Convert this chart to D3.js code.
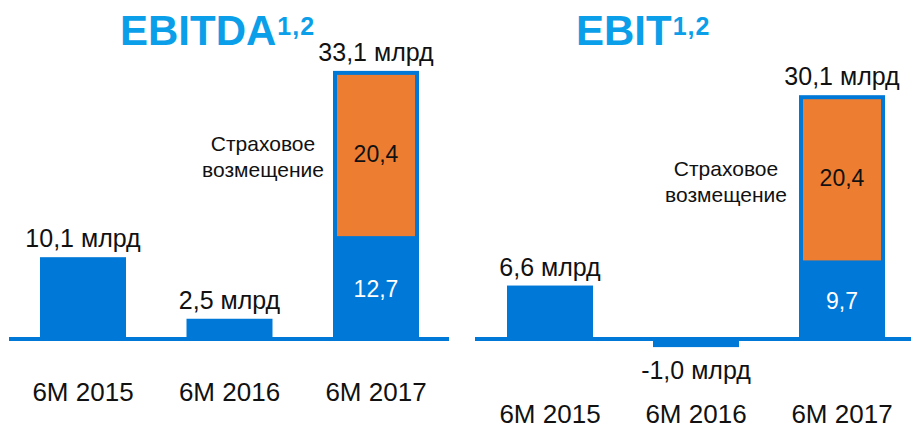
<!DOCTYPE html>
<html>
<head>
<meta charset="utf-8">
<script src="https://cdn.jsdelivr.net/npm/d3@7"></script>
<style>
  body { margin: 0; background: #fff; }
  text { font-family: "Liberation Sans", Arial, sans-serif; }
</style>
</head>
<body>
<div id="chart"></div>
<script>
var svgWidth = 911;
var svgHeight = 428;

// data
var categories = ["6M 2015", "6M 2016", "6M 2017"];
var ebitdaValues = [10.1, 2.5, 12.7];
var ebitValues = [6.6, -1.0, 9.7];
var insurance = [0, 0, 20.4];          // only the 2017 bar has it
var ebitdaTotals = ["10,1 млрд", "2,5 млрд", "33,1 млрд"];
var ebitTotals = ["6,6 млрд", "-1,0 млрд", "30,1 млрд"];
var insuranceLabel = ["Страховое", "возмещение"];

var blue = "#0078d7";
var orange = "#ed7d31";
var titleBlue = "#0b9ee9";

var svg = d3.select("#chart")
    .append("svg")
    .attr("width", svgWidth)
    .attr("height", svgHeight);

// same vertical scale for both panels
var y = d3.scaleLinear()
    .domain([0, 33.1])
    .range([339, 339 - 33.1 * 8.1]);

var barWidth = 86;

var panels = [
    { title: "EBITDA", titleX: 120, values: ebitdaValues, labels: ebitdaTotals,
      range: [83, 376], line: [9, 449], catY: 401, noteX: 263, noteY: 151 },
    { title: "EBIT", titleX: 576, values: ebitValues, labels: ebitTotals,
      range: [550, 842], line: [475, 911], catY: 423, noteX: 726, noteY: 176 }
];

panels.forEach(function(p) {
    var x = d3.scalePoint().domain(categories).range(p.range);
    var g = svg.append("g");

    // title with superscript
    var t = g.append("text")
        .attr("x", p.titleX)
        .attr("y", 45)
        .attr("fill", titleBlue)
        .attr("font-weight", "bold")
        .attr("font-size", 42)
        .text(p.title);
    t.append("tspan")
        .attr("font-size", 25)
        .attr("dy", -10)
        .attr("dx", 1)
        .attr("letter-spacing", 1)
        .text("1,2");

    // bars: full total in blue, orange inset for insurance part
    categories.forEach(function(c, i) {
        var v = p.values[i];
        var total = v + insurance[i];
        var cx = x(c);
        g.append("rect")
            .attr("x", cx - barWidth / 2)
            .attr("width", barWidth)
            .attr("y", Math.min(y(total), y(0)))
            .attr("height", Math.abs(y(0) - y(total)))
            .attr("fill", blue);

        if (insurance[i] > 0) {
            g.append("rect")
                .attr("x", cx - barWidth / 2 + 4)
                .attr("width", barWidth - 8)
                .attr("y", y(total) + 4)
                .attr("height", y(v) - y(total) - 4)
                .attr("fill", orange);

            g.append("text")
                .attr("x", cx)
                .attr("y", (y(v) + y(total)) / 2 + 8)
                .attr("text-anchor", "middle")
                .attr("font-size", 23)
                .attr("fill", "#111")
                .text(d3.format(".1f")(insurance[i]).replace(".", ","));

            g.append("text")
                .attr("x", cx)
                .attr("y", (y(0) + y(v)) / 2 + 9)
                .attr("text-anchor", "middle")
                .attr("font-size", 23)
                .attr("fill", "#fff")
                .text(d3.format(".1f")(v).replace(".", ","));
        }

        // total label above (or below for negatives)
        g.append("text")
            .attr("x", cx)
            .attr("y", total >= 0 ? y(total) - 10 : y(total) + 32)
            .attr("text-anchor", "middle")
            .attr("font-size", 25)
            .attr("fill", "#111")
            .text(p.labels[i]);

        // category label
        g.append("text")
            .attr("x", cx)
            .attr("y", p.catY)
            .attr("text-anchor", "middle")
            .attr("font-size", 26)
            .attr("fill", "#111")
            .text(c);
    });

    // baseline
    g.append("line")
        .attr("x1", p.line[0])
        .attr("x2", p.line[1])
        .attr("y1", y(0))
        .attr("y2", y(0))
        .attr("stroke", blue)
        .attr("stroke-width", 4);

    // insurance note
    g.append("text")
        .attr("text-anchor", "middle")
        .attr("font-size", 21)
        .attr("fill", "#111")
        .selectAll("tspan")
        .data(insuranceLabel)
        .enter()
        .append("tspan")
        .attr("x", p.noteX)
        .attr("y", function(d, i) { return p.noteY + i * 26; })
        .text(function(d) { return d; });
});
</script>
</body>
</html>
